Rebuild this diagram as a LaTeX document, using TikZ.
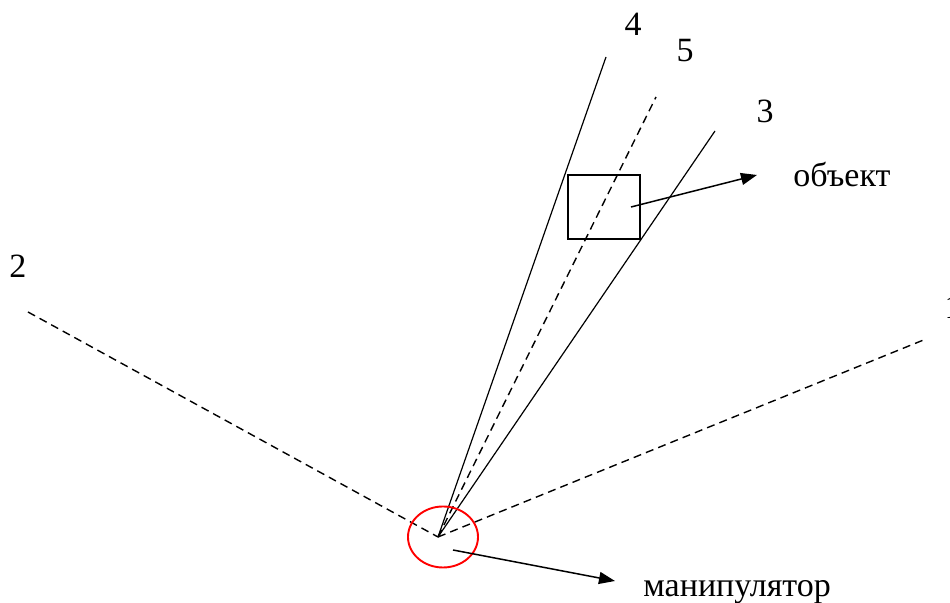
\documentclass[tikz,border=0pt]{standalone}
\usepackage{fontspec}
\setmainfont{Liberation Serif}
\usetikzlibrary{arrows.meta,shapes.geometric}

\begin{document}
\begin{tikzpicture}[
  x=0.5pt,y=-0.5pt,
  font=\fontsize{17}{20}\selectfont,
  ray/.style={line width=0.6pt},
  dray/.style={line width=0.7pt,dash pattern=on 4pt off 2.6pt},
  lbl/.style={inner sep=0pt},
  ptr/.style={->,line width=0.75pt},
  >={Triangle[length=8pt,width=6pt]}
]
\useasboundingbox (0,0) rectangle (950,603);
\coordinate (apex) at (438,537);
\coordinate (e1) at (926,339);
\coordinate (e2) at (28,312);
\coordinate (e3) at (715,131);
\coordinate (e4) at (606,57);
\coordinate (e5) at (656,97);
\draw[dray] (e2) -- (apex);
\draw[dray] (apex) -- (e1);
\draw[ray] (apex) -- (e4);
\draw[dray] (apex) -- (e5);
\draw[ray] (apex) -- (e3);

\node[lbl] (n1) at (953,307) {1};
\node[lbl] (n2) at (18,266) {2};
\node[lbl] (n3) at (765,111) {3};
\node[lbl] (n4) at (633,24) {4};
\node[lbl] (n5) at (685,51) {5};

\node[draw,line width=0.6pt,minimum width=36pt,minimum height=32pt,inner sep=0pt] (obj) at (604,207) {};
\coordinate (objpt) at (631,207);
\coordinate (objtip) at (757,175);
\draw[ptr] (objpt) -- (objtip);
\node[lbl,anchor=base west] (objlbl) at (793,187) {объект};

\node[ellipse,draw=red,line width=0.95pt,minimum width=35pt,minimum height=30.5pt,inner sep=0pt] (manip) at (443,537) {};
\coordinate (manpt) at (453,550);
\coordinate (mantip) at (615,581);
\draw[ptr] (manpt) -- (mantip);
\node[lbl,anchor=base west] (manlbl) at (643,597) {манипулятор};
\end{tikzpicture}
\end{document}
